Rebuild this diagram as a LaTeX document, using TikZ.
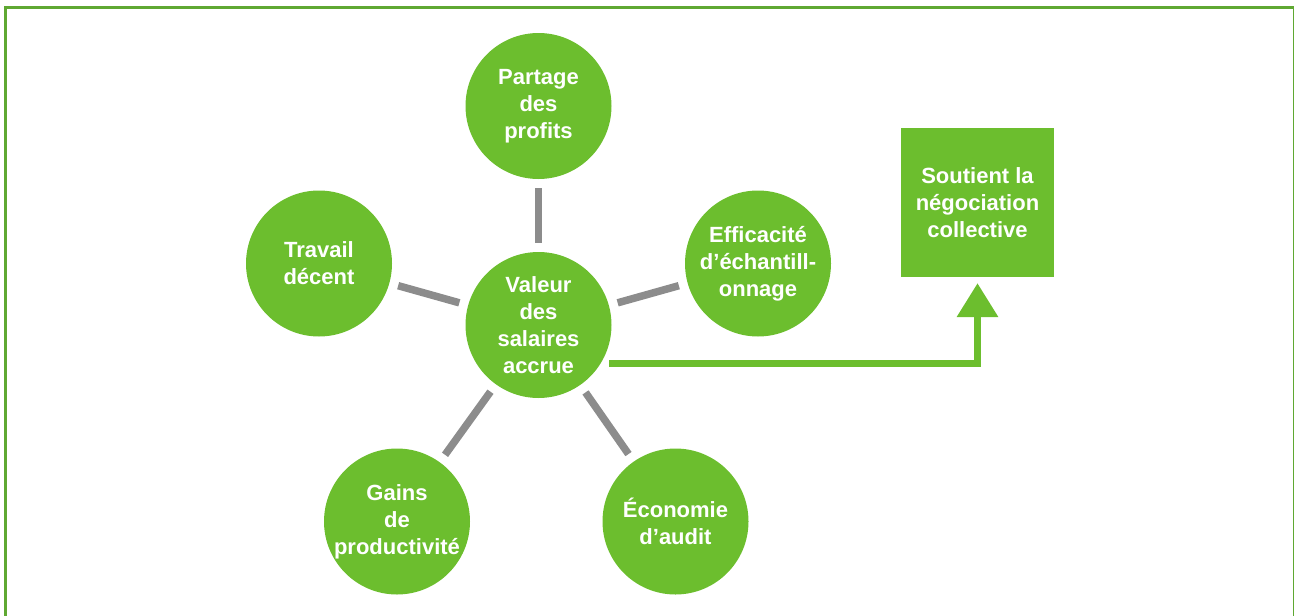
\documentclass[tikz,border=0pt]{standalone}
\usepackage{fontspec}
\setmainfont{Liberation Sans}
\usepackage{xcolor}
\usepackage{tikz}
\usetikzlibrary{arrows.meta}
\definecolor{vertrond}{RGB}{108,190,46}
\definecolor{vertcadre}{RGB}{95,168,50}
\definecolor{grislien}{RGB}{140,140,140}
\tikzstyle{rond} = [circle, fill=vertrond, text=white, minimum size=146pt,
inner sep=0pt, align=center, font=\fontsize{22}{27}\selectfont\bfseries]
\tikzstyle{boite} = [rectangle, fill=vertrond, text=white, minimum width=153pt,
minimum height=149pt, inner sep=0pt, align=center,
font=\fontsize{22}{27}\selectfont\bfseries]
\tikzstyle{lien} = [draw=grislien, line width=7.5pt, shorten >=9pt, shorten <=9pt]
\tikzstyle{fleche} = [draw=vertrond, line width=7pt, shorten >=6pt,
-{Triangle[width=40pt,length=34pt]}]

\begin{document}
\begin{tikzpicture}[x=1pt,y=-1pt]
        \useasboundingbox (0,0) rectangle (1294,616);
        \clip (0,0) rectangle (1294,616);
        % cadre
        \draw[vertcadre, line width=3.5pt] (5.5,640) -- (5.5,7.5) -- (1294.5,7.5) -- (1294.5,640);

        \node[rond] (valeur) at (538.5,325) {Valeur\\des\\salaires\\accrue};
        \node[rond] (partage) at (538.5,106) {Partage\\des\\profits};
        \node[rond] (travail) at (319,263.5) {Travail\\décent};
        \node[rond] (efficacite) at (758,263.5) {Efficacité\\d’échantill-\\onnage};
        \node[rond] (gains) at (397,521.5) {Gains\\de\\productivité};
        \node[rond] (economie) at (675.5,521.5) {Économie\\d’audit};
        \node[boite] (soutien) at (977.5,202.5) {Soutient la\\négociation\\collective};

        \draw[lien] (valeur) -- (partage);
        \draw[lien] (valeur) -- (travail);
        \draw[lien] (valeur) -- (efficacite);
        \draw[lien] (valeur) -- (gains);
        \draw[lien] (valeur) -- (economie);

        \coordinate (depart) at (609,363.5);
        \draw[fleche] (depart) -| (soutien.south);
    \end{tikzpicture}
\end{document}
